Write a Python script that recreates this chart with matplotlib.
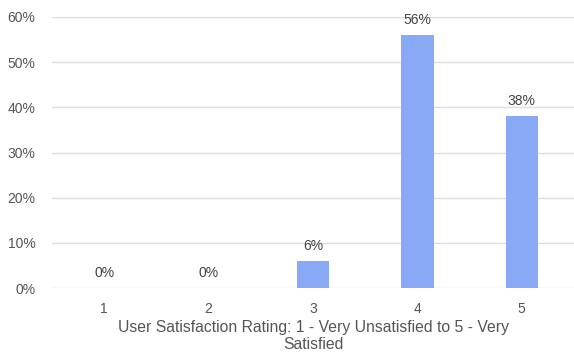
import matplotlib.pyplot as plt
from matplotlib.ticker import PercentFormatter

ratings = ["1", "2", "3", "4", "5"]
shares = [0, 0, 6, 56, 38]

plt.rcParams["font.family"] = ["Liberation Sans", "DejaVu Sans"]

fig = plt.figure(figsize=(5.74, 3.56), dpi=100)
ax = fig.add_axes([52 / 574, 1 - 288 / 356, 1 - 52 / 574, (288 - 17) / 356])

x = range(len(ratings))
bars = ax.bar(x, shares, width=0.31, color="#89a8f6", zorder=3)

# value labels above each bar
for rect, val in zip(bars, shares):
    ax.text(rect.get_x() + rect.get_width() / 2, val + 1.8, f"{val}%",
            ha="center", va="bottom", fontsize=10, color="#444444")

ax.set_xlim(-0.5, 4.5)
ax.set_ylim(0, 60)
ax.set_yticks(range(0, 61, 10))
ax.yaxis.set_major_formatter(PercentFormatter(decimals=0))
ax.set_xticks(list(x), ratings)
ax.grid(axis="y", color="#dddddd", linewidth=1, zorder=0)
for side in ax.spines.values():
    side.set_visible(False)
ax.tick_params(length=0, labelsize=10, labelcolor="#555555")
ax.tick_params(axis="y", pad=12)
ax.tick_params(axis="x", pad=10)

ax.set_xlabel("User Satisfaction Rating: 1 - Very Unsatisfied to 5 - Very\nSatisfied",
              fontsize=11.3, color="#555555", labelpad=3, linespacing=1.2)

fig.savefig("out.png", dpi=100)
